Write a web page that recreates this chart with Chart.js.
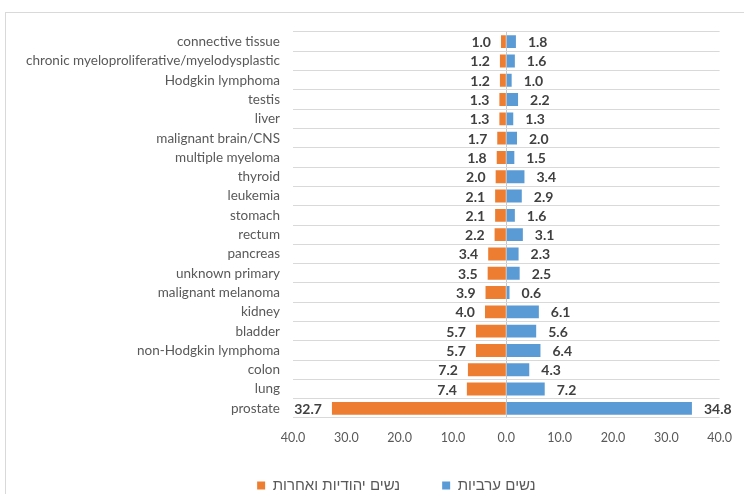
<!DOCTYPE html>
<html>
<head>
<meta charset="utf-8">
<script src="https://cdn.jsdelivr.net/npm/chart.js@4.4.1/dist/chart.umd.min.js"></script>
<style>
html,body{margin:0;padding:0;background:#fff;}
#wrap{position:relative;width:744px;height:494px;}
</style>
</head>
<body>
<div id="wrap"><canvas id="c" width="744" height="494"></canvas></div>
<script>
const categories = [
  "connective tissue",
  "chronic myeloproliferative/myelodysplastic",
  "Hodgkin lymphoma",
  "testis",
  "liver",
  "malignant brain/CNS",
  "multiple myeloma",
  "thyroid",
  "leukemia",
  "stomach",
  "rectum",
  "pancreas",
  "unknown primary",
  "malignant melanoma",
  "kidney",
  "bladder",
  "non-Hodgkin lymphoma",
  "colon",
  "lung",
  "prostate"
];
const jewishOtherWomen = [1.0, 1.2, 1.2, 1.3, 1.3, 1.7, 1.8, 2.0, 2.1, 2.1, 2.2, 3.4, 3.5, 3.9, 4.0, 5.7, 5.7, 7.2, 7.4, 32.7];
const arabWomen = [1.8, 1.6, 1.0, 2.2, 1.3, 2.0, 1.5, 3.4, 2.9, 1.6, 3.1, 2.3, 2.5, 0.6, 6.1, 5.6, 6.4, 4.3, 7.2, 34.8];
const seriesNames = ["נשים יהודיות ואחרות", "נשים ערביות"];
const xTicks = [-40, -30, -20, -10, 0, 10, 20, 30, 40];

const FONT = "Lato, 'Liberation Sans', Arial, sans-serif";
const HEB_FONT = "'Liberation Sans', Arial, sans-serif";

const frame = {
  id: 'frame',
  beforeDraw(chart) {
    const ctx = chart.ctx;
    ctx.save();
    ctx.fillStyle = '#fff';
    ctx.fillRect(0, 0, chart.width, chart.height);
    ctx.strokeStyle = '#d9d9d9';
    ctx.lineWidth = 1;
    ctx.strokeRect(5.5, 12.5, 900, 700);
    ctx.restore();
  }
};

// place the legend like the reference (below the axis labels, centred under labels+plot)
const legendPlace = {
  id: 'legendPlace',
  afterLayout(chart) {
    const lg = chart.legend;
    if (!lg) return;
    lg.top = 436; lg.bottom = chart.height;
    lg.left = 73; lg.right = chart.chartArea.right;
  }
};

const valueLabels = {
  id: 'valueLabels',
  afterDatasetsDraw(chart) {
    const ctx = chart.ctx;
    ctx.save();
    ctx.font = "bold 14px " + FONT;
    ctx.fillStyle = '#404040';
    ctx.textBaseline = 'middle';
    chart.data.datasets.forEach((ds, di) => {
      const meta = chart.getDatasetMeta(di);
      const src = di === 0 ? jewishOtherWomen : arabWomen;
      meta.data.forEach((el, i) => {
        const txt = src[i].toFixed(1);
        if (di === 0) {
          ctx.textAlign = 'right';
          ctx.fillText(txt, el.x - 10, el.y + 1);
        } else {
          ctx.textAlign = 'left';
          ctx.fillText(txt, el.x + 12, el.y + 1);
        }
      });
    });
    ctx.restore();
  }
};

new Chart(document.getElementById('c'), {
  type: 'bar',
  data: {
    labels: categories,
    datasets: [
      {
        label: seriesNames[0],
        data: jewishOtherWomen.map(v => -v),
        backgroundColor: '#ED7D31',
        barPercentage: 0.67,
        categoryPercentage: 1.0
      },
      {
        label: seriesNames[1],
        data: arabWomen,
        backgroundColor: '#5B9BD5',
        barPercentage: 0.67,
        categoryPercentage: 1.0
      }
    ]
  },
  options: {
    indexAxis: 'y',
    responsive: false,
    animation: false,
    devicePixelRatio: 1,
    layout: { padding: { left: 0, right: 23, top: 32, bottom: 0 } },
    plugins: {
      legend: {
        position: 'bottom',
        maxHeight: 20,
        labels: {
          boxWidth: 8,
          boxHeight: 8,
          padding: 42,
          color: '#595959',
          font: { family: HEB_FONT, size: 15 }
        }
      },
      tooltip: { enabled: false }
    },
    scales: {
      x: {
        stacked: true,
        min: -40,
        max: 40,
        afterBuildTicks(scale) { scale.ticks = xTicks.map(v => ({ value: v })); },
        afterFit(scale) { scale.height = 56; },
        ticks: {
          padding: 12,
          color: '#595959',
          font: { family: FONT, size: 12.5 },
          callback: v => Math.abs(v).toFixed(1)
        },
        grid: {
          drawTicks: false,
          color: ctx => (ctx.tick && ctx.tick.value === 0) ? '#c8c8c8' : 'rgba(0,0,0,0)'
        },
        border: { display: false }
      },
      y: {
        stacked: true,
        afterFit(scale) { scale.width = 293; },
        ticks: {
          padding: 13,
          color: '#595959',
          font: { family: FONT, size: 13.5 },
          autoSkip: false
        },
        grid: {
          drawTicks: false,
          color: '#d9d9d9'
        },
        border: { display: false }
      }
    }
  },
  plugins: [frame, legendPlace, valueLabels]
});
</script>
</body>
</html>
